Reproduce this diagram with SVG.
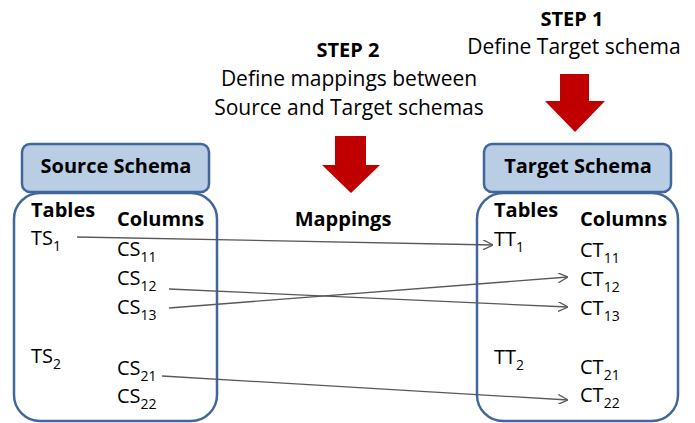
<svg xmlns="http://www.w3.org/2000/svg" width="695" height="423" viewBox="0 0 695 423">
<style>
text{font-family:"Open Sans","Liberation Sans",sans-serif;fill:#000}
.b{font-weight:bold;font-size:20px}
.r{font-size:21px}
.l{font-size:20px}
.s{font-size:14px}
.hdr{fill:#b9cde5;stroke:#41679a;stroke-width:2.5}
.body{fill:#fff;stroke:#41679a;stroke-width:2.5}
.red{fill:#c00000}
.con{stroke:#595959;stroke-width:1.3;fill:none;marker-end:url(#ah)}
</style>
<defs>
<marker id="ah" viewBox="0 0 10 10" refX="10" refY="5" markerWidth="10" markerHeight="10" markerUnits="userSpaceOnUse" orient="auto">
<path d="M0,0 L10,5 L0,10" fill="none" stroke="#595959" stroke-width="1.3"/>
</marker>
</defs>
<rect width="695" height="423" fill="#fff"/>
<g id="step1">
<text class="b" x="572" y="26" text-anchor="middle">STEP 1</text>
<text class="r" x="574" y="54" text-anchor="middle">Define Target schema</text>
<polygon class="red" points="560,74 589,74 589,101 605,101 575,132 545,101 560,101"/>
</g>
<g id="step2">
<text class="b" x="348" y="57" text-anchor="middle">STEP 2</text>
<text class="r" x="349" y="86" text-anchor="middle">Define mappings between</text>
<text class="r" x="349" y="115" text-anchor="middle">Source and Target schemas</text>
<polygon class="red" points="335,136 366,136 366,165 380,165 351,193 322,165 335,165"/>
<text class="b" x="343" y="226" text-anchor="middle">Mappings</text>
</g>
<g id="source">
<rect class="body" x="14" y="193" width="203" height="228" rx="26"/>
<rect class="hdr" x="22" y="144" width="187" height="48" rx="8"/>
<text class="b" x="116" y="173" text-anchor="middle">Source Schema</text>
<text class="b" x="31" y="217">Tables</text>
<text class="b" x="117" y="226">Columns</text>
<text class="l" x="31" y="245">TS<tspan class="s" dy="6">1</tspan></text>
<text class="l" x="31" y="363">TS<tspan class="s" dy="6">2</tspan></text>
<text class="l" x="117" y="256">CS<tspan class="s" dy="6">11</tspan></text>
<text class="l" x="117" y="285">CS<tspan class="s" dy="6">12</tspan></text>
<text class="l" x="117" y="314">CS<tspan class="s" dy="6">13</tspan></text>
<text class="l" x="117" y="375">CS<tspan class="s" dy="6">21</tspan></text>
<text class="l" x="117" y="403">CS<tspan class="s" dy="6">22</tspan></text>
</g>
<g id="target">
<rect class="body" x="477" y="193" width="201" height="228" rx="26"/>
<rect class="hdr" x="484" y="144" width="187" height="48" rx="8"/>
<text class="b" x="578" y="173" text-anchor="middle">Target Schema</text>
<text class="b" x="494" y="217">Tables</text>
<text class="b" x="580" y="226">Columns</text>
<text class="l" x="494" y="246">TT<tspan class="s" dy="6">1</tspan></text>
<text class="l" x="494" y="364">TT<tspan class="s" dy="6">2</tspan></text>
<text class="l" x="580" y="257">CT<tspan class="s" dy="6">11</tspan></text>
<text class="l" x="580" y="286">CT<tspan class="s" dy="6">12</tspan></text>
<text class="l" x="580" y="315">CT<tspan class="s" dy="6">13</tspan></text>
<text class="l" x="580" y="374">CT<tspan class="s" dy="6">21</tspan></text>
<text class="l" x="580" y="402">CT<tspan class="s" dy="6">22</tspan></text>
</g>
<g id="connectors">
<line class="con" x1="77" y1="237" x2="493" y2="245"/>
<line class="con" x1="169" y1="289" x2="568" y2="307"/>
<line class="con" x1="169" y1="308" x2="568" y2="277"/>
<line class="con" x1="162" y1="376" x2="568" y2="400"/>
</g>
</svg>
